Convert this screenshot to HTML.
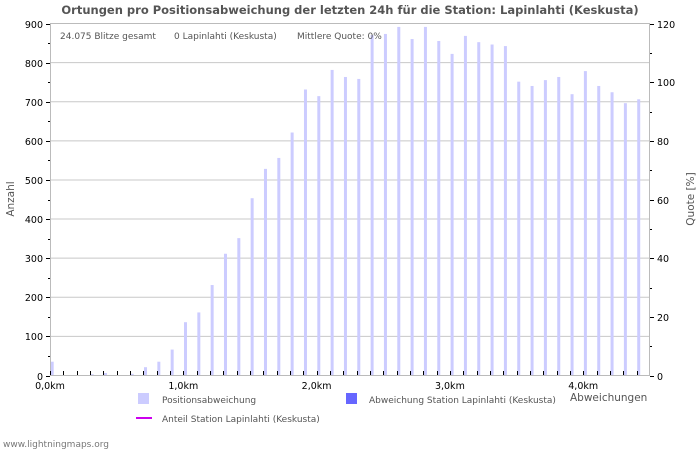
<!DOCTYPE html>
<html><head><meta charset="utf-8"><style>
body{margin:0;background:#fff;width:700px;height:450px;overflow:hidden}
svg{display:block;font-family:"DejaVu Sans","Liberation Sans",sans-serif}
</style></head><body>
<svg id="s" width="700" height="450" viewBox="0 0 700 450">
<rect width="700" height="450" fill="#fff"/>
<text x="350" y="14" text-anchor="middle" font-size="11.5" font-weight="bold" fill="#555">Ortungen pro Positionsabweichung der letzten 24h für die Station: Lapinlahti (Keskusta)</text>
<g id="grid"></g>
<g id="bars"></g>
<rect x="50.5" y="23.5" width="599" height="352" fill="none" stroke="#bbb"/>
<g id="ticks" stroke="#000"></g>
<g id="labels" font-size="9.5" fill="#000"></g>
<text x="60" y="39" font-size="9" fill="#555">24.075 Blitze gesamt</text>
<text x="174" y="39" font-size="9" fill="#555">0 Lapinlahti (Keskusta)</text>
<text x="297" y="39" font-size="9" fill="#555">Mittlere Quote: 0%</text>
<text transform="translate(14,199) rotate(-90)" text-anchor="middle" font-size="10.5" fill="#555">Anzahl</text>
<text transform="translate(694,199) rotate(-90)" text-anchor="middle" font-size="10.5" fill="#555">Quote [%]</text>
<text x="570" y="401" font-size="10.5" fill="#555">Abweichungen</text>
<rect x="138" y="393" width="11" height="11" fill="#ccccff"/>
<text x="162" y="403" font-size="9" fill="#555">Positionsabweichung</text>
<rect x="346" y="393" width="11" height="11" fill="#6666ff"/>
<text x="369" y="403" font-size="9" fill="#555">Abweichung Station Lapinlahti (Keskusta)</text>
<line x1="136" y1="418" x2="152" y2="418" stroke="#cc00ee" stroke-width="2"/>
<text x="162" y="422" font-size="9" fill="#555">Anteil Station Lapinlahti (Keskusta)</text>
<text x="3" y="447" font-size="9" fill="#777">www.lightningmaps.org</text>
</svg>
<script>
var NS="http://www.w3.org/2000/svg";
function el(p,t,a,txt){var e=document.createElementNS(NS,t);for(var k in a)e.setAttribute(k,a[k]);if(txt!=null)e.textContent=txt;document.getElementById(p).appendChild(e);}
var y0=375.5,sc=352/900;
for(var v=100;v<900;v+=100){var y=y0-v*sc;el("grid","line",{x1:50,x2:650,y1:y,y2:y,stroke:"#c8c8c8"});}
var vals=[34,0,0,2,5,0,3,20,34,65,135,160,230,310,350,452,527,555,620,730,713,780,762,757,869,872,890,859,890,854,821,867,851,845,841,750,739,754,762,718,777,739,723,695,705];
for(var i=0;i<vals.length;i++){var h=vals[i]*sc;el("bars","rect",{x:50+i*13.33+0.7,y:375-h,width:3,height:h,fill:"#ccccff"});}
for(var v=0;v<=900;v+=50){var y=Math.round(y0-v*sc)+0.5;el("ticks","line",{x1:v%100?48:46,x2:50,y1:y,y2:y});if(v%100==0)el("labels","text",{x:43,y:y+3.5,"text-anchor":"end"},String(v));}
for(var q=0;q<=120;q+=10){var y=Math.round(y0-q/120*352)+0.5;el("ticks","line",{x1:650,x2:q%20?652:654,y1:y,y2:y});if(q%20==0)el("labels","text",{x:657,y:y+3.5},String(q));}
for(var i=0;i<45;i++){var x=Math.round(50+i*13.33)+0.5;el("ticks","line",{x1:x,x2:x,y1:371,y2:375});}
for(var k=0;k<=4;k++){var x=50+k*133.3;el("labels","text",{x:x,y:389,"text-anchor":"middle"},k+",0km");}
</script>
</body></html>
